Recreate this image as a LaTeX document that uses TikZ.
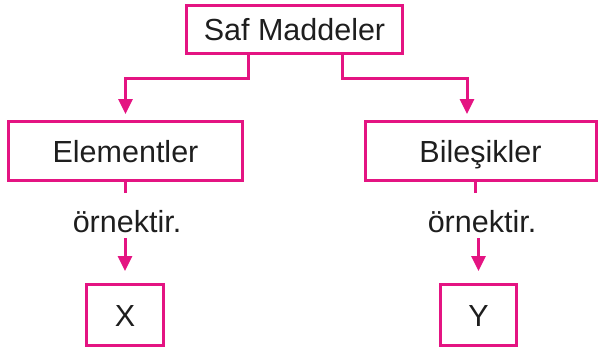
\documentclass[tikz,border=0pt]{standalone}
\usepackage{fontspec}
\setmainfont{Liberation Sans}
\usetikzlibrary{arrows.meta}
\definecolor{mag}{RGB}{228,20,130}
\definecolor{txt}{RGB}{30,30,30}
\begin{document}
\begin{tikzpicture}[x=1pt,y=-1pt,
  box/.style={draw=mag,line width=3pt,inner sep=0pt,text=txt,text height=22pt,text depth=0pt,font=\fontsize{30.5}{33}\selectfont},
  lbl/.style={inner sep=0pt,text=txt,font=\fontsize{30.5}{33}\selectfont},
  conn/.style={draw=mag,line width=3pt},
  arr/.style={conn,-{Triangle[length=15pt,width=14pt]}}]
\useasboundingbox (0,0) rectangle (599,354);
\node[box,minimum width=216pt,minimum height=48pt] (top) at (294.5,29.5) {Saf Maddeler};
\node[box,minimum width=234pt,minimum height=59pt,text depth=-5pt] (elem) at (125.5,151) {Elementler};
\node[box,minimum width=231pt,minimum height=59pt,text depth=-5pt] (bil) at (480.5,151) {Bileşikler};
\node[lbl] (o1) at (127,222) {örnektir.};
\node[lbl] (o2) at (482,222) {örnektir.};
\node[box,minimum width=77pt,minimum height=61pt] (x) at (125,315) {X};
\node[box,minimum width=76pt,minimum height=61pt] (y) at (478.5,315) {Y};
\draw[arr,shorten >=6pt] ([xshift=-46.5pt]top.south) -- ++(0,23) -| (elem.north);
\draw[arr,shorten >=6pt] ([xshift=47.5pt]top.south) -- ++(0,23) -| ([xshift=-13.5pt]bil.north);
\draw[conn] (elem.south) -- ++(0,11);
\draw[conn] ([xshift=-5.5pt]bil.south) -- ++(0,11);
\draw[arr,shorten >=12pt,shorten <=5pt] (o1.south -| x.north) -- (x.north);
\draw[arr,shorten >=12pt,shorten <=5pt] (o2.south -| y.north) -- (y.north);
\end{tikzpicture}
\end{document}
